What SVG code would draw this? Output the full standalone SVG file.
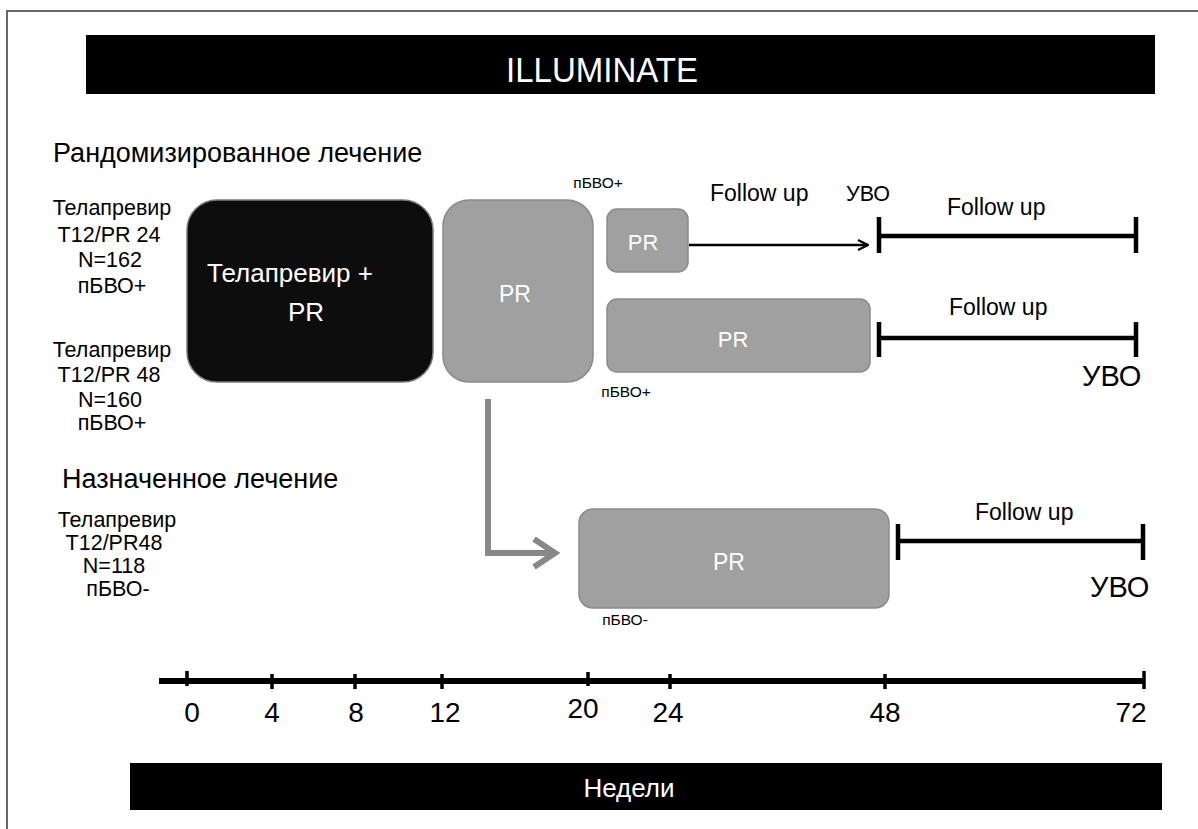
<svg xmlns="http://www.w3.org/2000/svg" width="1198" height="829" viewBox="0 0 1198 829">
<defs>
<style>
text{font-family:"Liberation Sans",Arial,sans-serif;fill:#000}
.w{fill:#fff}
.lbl{font-size:21.5px;text-anchor:middle}
.hdr{font-size:27px}
.fu{font-size:23px}
.small{font-size:15.5px;text-anchor:middle}
.gbox{fill:#a0a0a0;stroke:#8a8a8a;stroke-width:1.5}
.bar{stroke:#000;stroke-width:4.5;fill:none}
.tick{stroke:#000;stroke-width:3.5}
.num{font-size:28px;text-anchor:middle}
</style>
<marker id="chev" viewBox="0 0 12 12" refX="11" refY="6" markerWidth="12" markerHeight="12" markerUnits="userSpaceOnUse" orient="auto">
<path d="M1,1 L11,6 L1,11" fill="none" stroke="#000" stroke-width="2.2"/>
</marker>
</defs>
<rect width="1198" height="829" fill="#fff"/>
<path d="M7,829 V11 H1198" fill="none" stroke="#666" stroke-width="2"/>

<g id="title">
<rect x="86" y="35" width="1069" height="59" fill="#000"/>
<text x="602" y="82" class="w" font-size="35" text-anchor="middle" textLength="192" lengthAdjust="spacingAndGlyphs">ILLUMINATE</text>
</g>

<g id="labels-left">
<text x="53" y="162" class="hdr">Рандомизированное лечение</text>
<text class="lbl" x="112" y="215">Телапревир</text>
<text class="lbl" x="109" y="242">T12/PR  24</text>
<text class="lbl" x="110" y="267">N=162</text>
<text class="lbl" x="112" y="293">пБВО+</text>
<text class="lbl" x="112" y="357">Телапревир</text>
<text class="lbl" x="109" y="382">T12/PR 48</text>
<text class="lbl" x="110" y="407">N=160</text>
<text class="lbl" x="112" y="430">пБВО+</text>
<text x="62" y="488" class="hdr">Назначенное лечение</text>
<text class="lbl" x="117" y="527">Телапревир</text>
<text class="lbl" x="114" y="550">T12/PR48</text>
<text class="lbl" x="114" y="573">N=118</text>
<text class="lbl" x="118" y="596">пБВО-</text>
</g>

<g id="node-telaprevir">
<rect x="187" y="200" width="246" height="182" rx="30" fill="#0d0d0d" stroke="#7a7a7a" stroke-width="1.5"/>
<text x="290" y="282" class="w" font-size="26" text-anchor="middle">Телапревир +</text>
<text x="306" y="321" class="w" font-size="26" text-anchor="middle">PR</text>
</g>

<g id="node-pr-main">
<rect x="443" y="200" width="150" height="182" rx="26" class="gbox"/>
<text x="515" y="302" class="w" font-size="23" text-anchor="middle">PR</text>
</g>

<g id="node-pr-short">
<rect x="607" y="209" width="81" height="63" rx="10" class="gbox"/>
<text x="643" y="250" class="w" font-size="22" text-anchor="middle">PR</text>
<text x="598" y="188" class="small">пБВО+</text>
</g>

<g id="node-pr-long">
<rect x="607" y="299" width="263" height="73" rx="10" class="gbox"/>
<text x="733" y="347" class="w" font-size="22" text-anchor="middle">PR</text>
<text x="626" y="397" class="small">пБВО+</text>
</g>

<g id="node-pr-assigned">
<rect x="579" y="509" width="310" height="99" rx="14" class="gbox"/>
<text x="729" y="570" class="w" font-size="23" text-anchor="middle">PR</text>
<text x="625" y="625" class="small">пБВО-</text>
</g>

<g id="followup-1">
<text x="710" y="201" class="fu">Follow up</text>
<text x="846" y="201" font-size="21.5">УВО</text>
<text x="947" y="215" class="fu">Follow up</text>
</g>
<g id="followup-2">
<text x="949" y="315" class="fu">Follow up</text>
<text x="1082" y="386" font-size="29">УВО</text>
</g>
<g id="followup-3">
<text x="975" y="520" class="fu">Follow up</text>
<text x="1090" y="597" font-size="29">УВО</text>
</g>

<g id="connectors">
<line x1="689" y1="245" x2="868" y2="245" stroke="#000" stroke-width="2.5" marker-end="url(#chev)"/>
<path class="bar" d="M879,217 V253 M879,236 H1136 M1136,217 V253"/>
<path class="bar" d="M879,322 V357 M879,338 H1136 M1136,322 V357"/>
<path class="bar" d="M898,524 V560 M898,541 H1143 M1143,524 V560"/>
<path d="M488,399 V553 H554" fill="none" stroke="#888" stroke-width="6"/>
<path d="M534,539 L555,553 L534,567" fill="none" stroke="#888" stroke-width="6"/>
</g>

<g id="axis">
<line x1="159" y1="681" x2="1145" y2="681" stroke="#000" stroke-width="6"/>
<path class="tick" d="M187,671 V686 M272,674 V689 M355,674 V689 M442,674 V689 M588,672 V686 M670,674 V689 M885,674 V689 M1144,671 V689"/>
<text class="num" x="192" y="722">0</text>
<text class="num" x="272" y="722">4</text>
<text class="num" x="356" y="722">8</text>
<text class="num" x="445" y="722">12</text>
<text class="num" x="583" y="718">20</text>
<text class="num" x="668" y="722">24</text>
<text class="num" x="885" y="722">48</text>
<text class="num" x="1131" y="722">72</text>
</g>

<g id="weeks">
<rect x="130" y="763" width="1032" height="47" fill="#000"/>
<text x="629" y="797" class="w" font-size="26" text-anchor="middle">Недели</text>
</g>
</svg>
